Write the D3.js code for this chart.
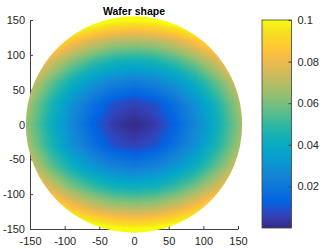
<!DOCTYPE html>
<html>
<head>
<meta charset="utf-8">
<script src="https://cdn.jsdelivr.net/npm/d3@7"></script>
<style>
  html, body { margin: 0; padding: 0; background: #fff; }
  svg { display: block; font-family: Arial, "Liberation Sans", Helvetica, sans-serif; }
  .tick text { fill: #262626; font-size: 11px; }
  .domain, .tick line { stroke: #404040; }
</style>
</head>
<body>
<svg id="chart" width="332" height="249"></svg>
<script>
// wafer height, rows top (y=180) to bottom (y=-180)
const gridX = [-180, -150, -120, -90, -60, -30, 0, 30, 60, 90, 120, 150, 180];
const gridY = [180, 150, 120, 90, 60, 30, 0, -30, -60, -90, -120, -150, -180];
const waferZ = [
  [.199,.180,.165,.152,.143,.138,.136,.138,.143,.152,.165,.180,.199],
  [.165,.146,.130,.117,.108,.102,.100,.102,.108,.117,.130,.146,.165],
  [.137,.117,.100,.086,.076,.070,.068,.070,.076,.086,.100,.117,.137],
  [.114,.093,.075,.061,.051,.044,.042,.044,.051,.061,.075,.093,.114],
  [.097,.075,.057,.042,.031,.024,.021,.024,.031,.042,.057,.075,.097],
  [.086,.065,.046,.030,.018,.009,.006,.009,.018,.030,.046,.065,.086],
  [.083,.061,.042,.026,.013,.004,.000,.004,.013,.026,.042,.061,.083],
  [.086,.065,.046,.030,.018,.009,.006,.009,.018,.030,.046,.065,.086],
  [.097,.075,.057,.042,.031,.024,.021,.024,.031,.042,.057,.075,.097],
  [.114,.093,.075,.061,.051,.044,.042,.044,.051,.061,.075,.093,.114],
  [.137,.117,.100,.086,.076,.070,.068,.070,.076,.086,.100,.117,.137],
  [.165,.146,.130,.117,.108,.102,.100,.102,.108,.117,.130,.146,.165],
  [.199,.180,.165,.152,.143,.138,.136,.138,.143,.152,.165,.180,.199]
];
const waferRadius = 156;
const xTicks = [-150, -100, -50, 0, 50, 100, 150];
const yTicks = [-150, -100, -50, 0, 50, 100, 150];
const cbTicks = [0.02, 0.04, 0.06, 0.08, 0.1];
const cbLimits = [0, 0.1];
const title = "Wafer shape";

// parula (every 4th entry of the 64-colour map)
const parula = [
  [0.2081,0.1663,0.5292],[0.1959,0.2645,0.7279],[0.0117,0.3875,0.8820],[0.0498,0.4586,0.8641],
  [0.0793,0.5200,0.8312],[0.0343,0.5966,0.8199],[0.0228,0.6535,0.7768],[0.0843,0.6928,0.7062],
  [0.2178,0.7250,0.6193],[0.3953,0.7459,0.5244],[0.5709,0.7485,0.4494],[0.7184,0.7411,0.3905],
  [0.8507,0.7299,0.3360],[0.9739,0.7314,0.2666],[0.9880,0.8066,0.1794],[0.9589,0.8949,0.1132],
  [0.9763,0.9831,0.0538]
];
const parulaPos = parula.map((d, i) => i < 16 ? i * 4 / 63 : 1);
const parulaCol = parula.map(c => d3.rgb(c[0] * 255, c[1] * 255, c[2] * 255).formatHex());
const parulaScale = d3.scaleLinear().domain(parulaPos).range(parulaCol)
  .interpolate(d3.interpolateRgb).clamp(true);
const color = d3.scaleLinear().domain(cbLimits).range([0, 1]).clamp(true);

const svg = d3.select("#chart");
const x = d3.scaleLinear().domain([-150, 150]).range([30, 238]);
const y = d3.scaleLinear().domain([-150, 150]).range([229, 20]);

// axes first: the surface sits on top of them
svg.append("g")
  .attr("transform", `translate(0,${y(-150)})`)
  .call(d3.axisBottom(x).tickValues(xTicks).tickFormat(d => String(d))
    .tickSize(-3).tickSizeOuter(0).tickPadding(8));
svg.append("g")
  .attr("transform", `translate(${x(-150)},0)`)
  .call(d3.axisLeft(y).tickValues(yTicks).tickFormat(d => String(d))
    .tickSize(-3).tickSizeOuter(0).tickPadding(5));

// surface with interpolated shading over the grid (like shading interp)
const gx = d3.scaleLinear().domain(d3.extent(gridX)).range([0, gridX.length - 1]).clamp(true);
const gy = d3.scaleLinear().domain([gridY[0], gridY[gridY.length - 1]]).range([0, gridY.length - 1]).clamp(true);
function zAt(dx, dy) {
  const fi = gx(dx), fj = gy(dy);
  const i0 = Math.min(Math.floor(fi), gridX.length - 2), j0 = Math.min(Math.floor(fj), gridY.length - 2);
  const tx = fi - i0, ty = fj - j0;
  const top = waferZ[j0][i0] * (1 - tx) + waferZ[j0][i0 + 1] * tx;
  const bot = waferZ[j0 + 1][i0] * (1 - tx) + waferZ[j0 + 1][i0 + 1] * tx;
  return top * (1 - ty) + bot * ty;
}
const px0 = Math.floor(x(-waferRadius)) - 1, px1 = Math.ceil(x(waferRadius)) + 1;
const py0 = Math.floor(y(waferRadius)) - 1, py1 = Math.ceil(y(-waferRadius)) + 1;
const cv = document.createElement("canvas");
cv.width = px1 - px0; cv.height = py1 - py0;
const ctx = cv.getContext("2d");
const img = ctx.createImageData(cv.width, cv.height);
for (let j = 0; j < cv.height; j++) {
  for (let i = 0; i < cv.width; i++) {
    const c = d3.rgb(parulaScale(color(zAt(x.invert(px0 + i + 0.5), y.invert(py0 + j + 0.5)))));
    const k = (j * cv.width + i) * 4;
    img.data[k] = c.r; img.data[k + 1] = c.g; img.data[k + 2] = c.b; img.data[k + 3] = 255;
  }
}
ctx.putImageData(img, 0, 0);

svg.append("clipPath").attr("id", "wafer")
  .append("circle")
  .attr("cx", x(0)).attr("cy", y(0))
  .attr("r", x(waferRadius) - x(0));
svg.append("image")
  .attr("href", cv.toDataURL())
  .attr("x", px0).attr("y", py0)
  .attr("width", cv.width).attr("height", cv.height)
  .attr("clip-path", "url(#wafer)");

svg.append("text")
  .attr("x", x(0)).attr("y", 14.5)
  .attr("text-anchor", "middle")
  .style("font-size", "10.5px").style("font-weight", "bold").style("fill", "#000")
  .text(title);

// colorbar
const cb = d3.scaleLinear().domain(cbLimits).range([228, 20]);
const grad = svg.append("defs").append("linearGradient").attr("id", "cbGrad")
  .attr("x1", 0).attr("y1", 1).attr("x2", 0).attr("y2", 0);
d3.range(0, 1.0001, 1 / 64).forEach(t => {
  grad.append("stop").attr("offset", t).attr("stop-color", parulaScale(t));
});
const cbX = 262, cbW = 29.5;
svg.append("rect")
  .attr("x", cbX).attr("y", cb(cbLimits[1]))
  .attr("width", cbW).attr("height", cb(cbLimits[0]) - cb(cbLimits[1]))
  .attr("fill", "url(#cbGrad)")
  .attr("stroke", "#404040").attr("stroke-width", 0.8);
svg.append("g")
  .attr("transform", `translate(${cbX + cbW},0)`)
  .call(d3.axisRight(cb).tickValues(cbTicks).tickFormat(d => String(d))
    .tickSize(-3).tickSizeOuter(0).tickPadding(6))
  .call(g => g.select(".domain").remove());
</script>
</body>
</html>
